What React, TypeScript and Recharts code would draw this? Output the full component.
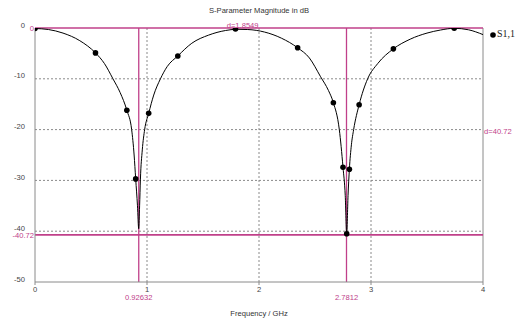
import React from "react";
import {
  ComposedChart,
  Line,
  Scatter,
  XAxis,
  YAxis,
  CartesianGrid,
  ReferenceLine,
  ReferenceDot,
  Label,
} from "recharts";

// S1,1 curve (frequency in GHz, magnitude in dB)
const curveFreq = [
  0, 0.12, 0.25, 0.4, 0.54, 0.62, 0.696, 0.76, 0.82, 0.863, 0.885, 0.899, 0.915,
  0.926, 0.934, 0.941, 0.958, 0.979, 1.015, 1.06, 1.12, 1.18, 1.275, 1.4, 1.55,
  1.7, 1.8, 1.9, 2.05, 2.2, 2.345, 2.45, 2.55, 2.62, 2.664, 2.717, 2.75, 2.77,
  2.783, 2.795, 2.807, 2.825, 2.845, 2.894, 2.97, 3.06, 3.2, 3.35, 3.5, 3.62,
  3.743, 3.87, 4.0,
];
const curveDb = [
  -0.1, -0.3, -1.0, -2.5, -4.9, -7.0, -10, -12.7, -16.2, -20, -25, -29.7, -35,
  -39.5, -35, -29.9, -24, -20, -16.8, -13.2, -10, -7.6, -5.5, -3.0, -1.4, -0.5,
  -0.25, -0.3, -0.8, -2.0, -3.9, -5.9, -9.6, -12.3, -14.7, -20, -27.4, -33,
  -40.5, -33, -27.8, -23, -20, -15.1, -10, -7.0, -4.1, -2.2, -1.0, -0.4, -0.06,
  -0.35, -1.3,
];

// sample points drawn as dots
const dotFreq = [0, 0.54, 0.82, 0.899, 1.015, 1.275, 1.79, 2.345, 2.664, 2.75, 2.783, 2.807, 2.894, 3.2, 3.743];
const dotDb = [-0.1, -4.9, -16.2, -29.7, -16.8, -5.5, -0.2, -3.9, -14.7, -27.4, -40.5, -27.8, -15.1, -4.1, -0.06];

const xTicks = [0, 1, 2, 3, 4];
const yTicks = [-50, -40, -30, -20, -10, 0];

// markers
const marker1 = 0.92632;
const marker2 = 2.7812;
const markerLevel = -40.72;

const curveData = curveFreq.map((f, i) => ({ f, db: curveDb[i] }));
const dotData = dotFreq.map((f, i) => ({ f, db: dotDb[i] }));

const MAGENTA = "#c0408a";
const GRAY = "#8a8a8a";
const FONT = "'Liberation Sans', Arial, sans-serif";

export default function App() {
  return (
    <div style={{ position: "absolute", left: 0, top: 0, background: "#fff" }}>
      <ComposedChart
        width={515}
        height={323}
        margin={{ top: 28, right: 32, bottom: 7, left: 5 }}
      >
        <text x={259} y={11} textAnchor="middle" dominantBaseline="middle" fontSize={7.6} fontFamily={FONT} fill="#333">
          S-Parameter Magnitude in dB
        </text>
        {/* legend */}
        <circle cx={493} cy={35} r={2.8} fill="#000" />
        <text x={497} y={35} dominantBaseline="middle" fontSize={10} fontFamily="'Liberation Serif', serif" fill="#222">
          S1,1
        </text>
        <CartesianGrid stroke={GRAY} strokeDasharray="2 2" horizontalValues={[-40, -30, -20, -10]} verticalValues={[1, 2, 3]} />
        <XAxis
          type="number"
          dataKey="f"
          domain={[0, 4]}
          ticks={xTicks}
          allowDataOverflow
          height={34}
          stroke={GRAY}
          tickSize={3}
          tickMargin={2}
          tick={{ fontSize: 7.6, fontFamily: FONT, fill: "#444" }}
        >
          <Label value="Frequency / GHz" position="insideBottom" offset={0} fontSize={7.6} fontFamily={FONT} fill="#333" />
        </XAxis>
        <YAxis
          type="number"
          dataKey="db"
          domain={[-50, 0]}
          ticks={yTicks}
          allowDataOverflow
          width={30}
          stroke={GRAY}
          tickLine={false}
          tickMargin={4}
          tick={{ fontSize: 7.6, fontFamily: FONT, fill: "#444", dy: -3 }}
        />
        <ReferenceLine x={4} stroke={GRAY} />
        <ReferenceLine y={0} stroke={MAGENTA} strokeWidth={1.6}>
          <Label value="0" position="left" offset={1} fontSize={7.6} fontFamily={FONT} fill={MAGENTA} />
        </ReferenceLine>
        <ReferenceLine y={markerLevel} stroke={MAGENTA} strokeWidth={1.6}>
          <Label value="-40.72" position="left" offset={1} fontSize={7.6} fontFamily={FONT} fill={MAGENTA} />
        </ReferenceLine>
        <ReferenceLine x={marker1} stroke={MAGENTA} strokeWidth={1.3}>
          <Label value="0.92632" position="bottom" offset={13} fontSize={7.6} fontFamily={FONT} fill={MAGENTA} />
        </ReferenceLine>
        <ReferenceLine x={marker2} stroke={MAGENTA} strokeWidth={1.3}>
          <Label value="2.7812" position="bottom" offset={13} fontSize={7.6} fontFamily={FONT} fill={MAGENTA} />
        </ReferenceLine>
        <ReferenceDot x={(marker1 + marker2) / 2} y={0} r={0} stroke="none" fill="none">
          <Label value="d=1.8549" position="top" offset={0} fontSize={7.6} fontFamily={FONT} fill={MAGENTA} />
        </ReferenceDot>
        <ReferenceDot x={4} y={markerLevel / 2} r={0} stroke="none" fill="none">
          <Label value="d=40.72" position="right" offset={1} fontSize={7.6} fontFamily={FONT} fill={MAGENTA} />
        </ReferenceDot>
        <Line
          data={curveData}
          dataKey="db"
          type="monotone"
          stroke="#000"
          strokeWidth={1}
          dot={false}
          activeDot={false}
          isAnimationActive={false}
          legendType="none"
        />
        <Scatter
          data={dotData}
          dataKey="db"
          fill="#000"
          isAnimationActive={false}
          shape={(p: any) => <circle cx={p.cx} cy={p.cy} r={2.8} fill="#000" />}
        />
      </ComposedChart>
    </div>
  );
}
